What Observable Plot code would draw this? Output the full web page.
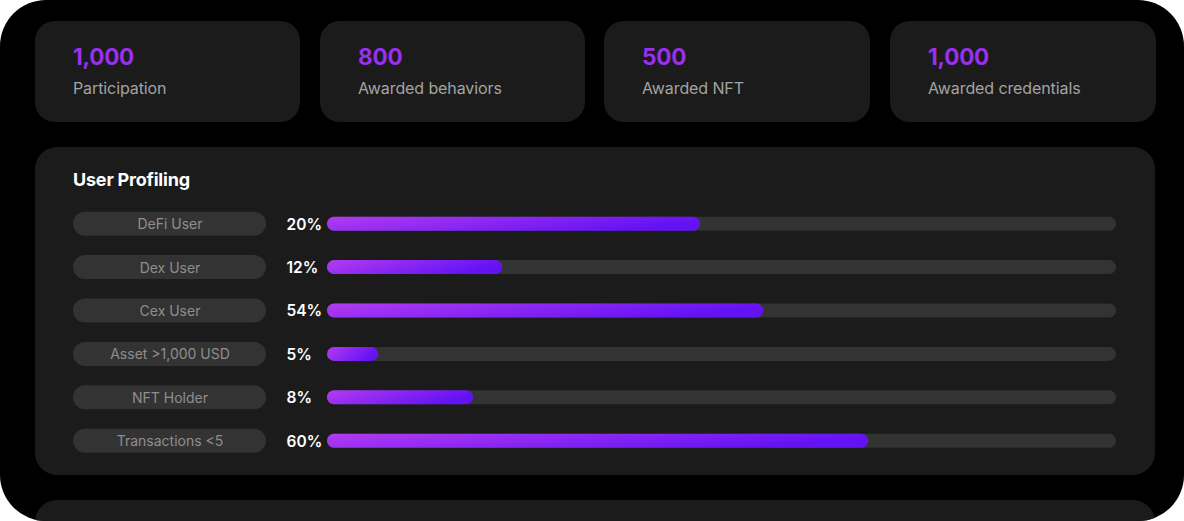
<!DOCTYPE html>
<html>
<head>
<meta charset="utf-8">
<script src="https://cdn.jsdelivr.net/npm/d3@7"></script>
<script src="https://cdn.jsdelivr.net/npm/@observablehq/plot@0.6"></script>
<style>
  html, body { margin: 0; padding: 0; background: #ffffff; }
  body { width: 1184px; height: 521px; position: relative; overflow: hidden; font-family: Inter, "Noto Sans", sans-serif; }
  #frame { position: absolute; left: 0; top: 0; width: 1184px; height: 521px; background: #000; border-radius: 46px; overflow: hidden; }
  .card { position: absolute; top: 21px; height: 101px; width: 265px; background: #1b1b1b; border-radius: 20px; }
  .card .num { position: absolute; left: 38px; top: 22px; font-size: 22.5px; font-weight: 700; color: #9a30ef; letter-spacing: -0.2px; }
  .card .lbl { position: absolute; left: 38px; top: 57px; font-size: 16px; color: #a3a3a3; letter-spacing: -0.1px; }
  #panel { position: absolute; left: 35px; top: 147px; width: 1120px; height: 328px; background: #1b1b1b; border-radius: 22px; }
  #panel2 { position: absolute; left: 35px; top: 500px; width: 1120px; height: 120px; background: #1b1b1b; border-radius: 22px; }
  #title { position: absolute; left: 73px; top: 169px; font-size: 18px; font-weight: 700; color: #ffffff; letter-spacing: -0.2px; }
  #pills { position: absolute; left: 73px; top: 201.5px; }
  #bars { position: absolute; left: 266px; top: 201.5px; }
</style>
</head>
<body>
<div id="frame">
  <div id="cards"></div>
  <div id="panel"></div>
  <div id="title">User Profiling</div>
  <div id="pills"></div>
  <div id="bars"></div>
  <div id="panel2"></div>
</div>
<script>
// ---- data ----
const kpiValues = ["1,000", "800", "500", "1,000"];
const kpiLabels = ["Participation", "Awarded behaviors", "Awarded NFT", "Awarded credentials"];

const categories = ["DeFi User", "Dex User", "Cex User", "Asset >1,000 USD", "NFT Holder", "Transactions <5"];
const percentLabels = [20, 12, 54, 5, 8, 60];
// filled share of each track
const barFill = [0.473, 0.222, 0.553, 0.065, 0.185, 0.686];

// ---- KPI cards ----
const cardLefts = [35, 320, 604, 890];
const cardsEl = document.getElementById("cards");
kpiValues.forEach((v, i) => {
  const c = document.createElement("div");
  c.className = "card";
  c.style.left = cardLefts[i] + "px";
  c.style.width = (i >= 2 ? 266 : 265) + "px";
  c.innerHTML = `<div class="num">${v}</div><div class="lbl">${kpiLabels[i]}</div>`;
  cardsEl.appendChild(c);
});

const rows = categories.map((c, i) => ({cat: c, pct: percentLabels[i], fill: barFill[i]}));
const rowH = 43.4;
const H = rowH * categories.length;
const font = "Inter, 'Noto Sans', sans-serif";

// ---- pill labels ----
const pills = Plot.plot({
  width: 193, height: H,
  marginLeft: 0, marginRight: 0, marginTop: 0, marginBottom: 0,
  style: {background: "transparent", fontFamily: font},
  x: {domain: [0, 1], axis: null},
  y: {domain: categories, axis: null, padding: 0, round: false},
  marks: [
    Plot.barX(rows, {x1: 0, x2: 1, y: "cat", fill: "#333333", rx: 12, ry: 12, insetTop: (rowH - 24) / 2, insetBottom: (rowH - 24) / 2}),
    Plot.text(rows, {x: 0.5, y: "cat", text: "cat", fill: "#8e8e8e", fontSize: 14, dy: 0.5, fontFamily: font})
  ]
});
document.getElementById("pills").appendChild(pills);

// ---- bars ----
const bars = Plot.plot({
  width: 850, height: H,
  marginLeft: 61, marginRight: 0, marginTop: 0, marginBottom: 0,
  style: {background: "transparent", fontFamily: font},
  x: {domain: [0, 1], axis: null},
  y: {domain: categories, axis: null, padding: 0, round: false},
  marks: [
    Plot.barX(rows, {x1: 0, x2: 1, y: "cat", fill: "#333333", rx: 7, ry: 7, insetTop: (rowH - 14) / 2, insetBottom: (rowH - 14) / 2}),
    Plot.barX(rows, {x1: 0, x2: "fill", y: "cat", fill: "url(#barGrad)", rx: 7, ry: 7, insetTop: (rowH - 14) / 2, insetBottom: (rowH - 14) / 2}),
    Plot.text(rows, {x: 0, y: "cat", text: d => d.pct + "%", textAnchor: "start", dx: -41, dy: 0.5, fill: "#ffffff", fontSize: 15.5, fontWeight: 600, fontFamily: font})
  ]
});
const defs = d3.select(bars).insert("defs", ":first-child");
const g = defs.append("linearGradient").attr("id", "barGrad").attr("x1", "0").attr("y1", "0").attr("x2", "1").attr("y2", "0.3");
g.append("stop").attr("offset", "0%").attr("stop-color", "#b23cf0");
g.append("stop").attr("offset", "100%").attr("stop-color", "#6312f4");
document.getElementById("bars").appendChild(bars);
</script>
</body>
</html>
